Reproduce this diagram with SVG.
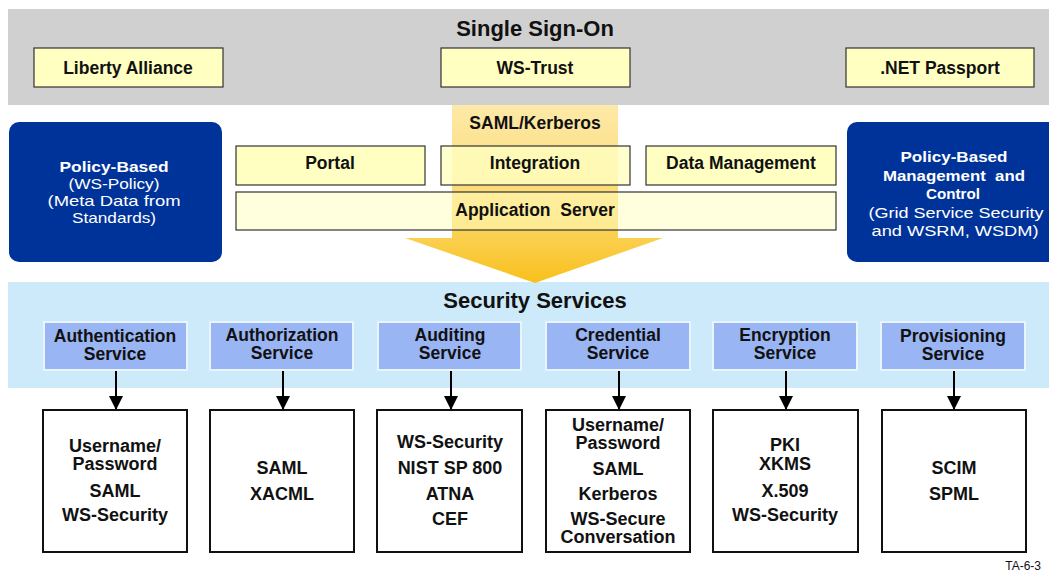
<svg xmlns="http://www.w3.org/2000/svg" width="1049" height="573" viewBox="0 0 1049 573">
<defs>
<linearGradient id="ag" gradientUnits="userSpaceOnUse" x1="0" y1="105" x2="0" y2="284">
<stop offset="0" stop-color="#fde9a8"/>
<stop offset="0.5" stop-color="#fcdb74"/>
<stop offset="0.75" stop-color="#fbcf4e"/>
<stop offset="1" stop-color="#f8c01a"/>
</linearGradient>
<marker id="ah" markerWidth="14" markerHeight="14" refX="14" refY="7" orient="auto" markerUnits="userSpaceOnUse" viewBox="0 0 14 14">
<path d="M0,0 L14,7 L0,14 Z" fill="#000"/>
</marker>
</defs>
<style>
text{font-family:"Liberation Sans",Arial,sans-serif;text-anchor:middle;fill:#111}
.b{font-weight:bold;font-size:17.5px}
.r{font-weight:bold;font-size:18px}
.t{font-weight:bold;font-size:22px}
.yb{fill:#ffffc2;stroke:#333;stroke-width:1.2}
.blue{fill:#003399}
.w{fill:#fff;font-size:15px}
.wb{fill:#fff;font-size:15px;font-weight:bold}
.w2{fill:#fff;font-size:15.5px}
.wb2{fill:#fff;font-size:15.5px;font-weight:bold}
.svc{fill:#99b5f3;stroke:#e8f4ff;stroke-width:2}
.res{fill:#fff;stroke:#111;stroke-width:2}
.con{stroke:#000;stroke-width:2;fill:none}
</style>
<rect x="0" y="0" width="1049" height="573" fill="#fff"/>
<g id="sso">
<rect x="8" y="9" width="1041" height="96" fill="#d0d0d0"/>
<text class="t" x="535" y="36">Single Sign-On</text>
</g>
<g id="liberty"><rect class="yb" x="34" y="48" width="189" height="39"/><text class="b" x="128" y="74">Liberty Alliance</text></g>
<g id="wstrust"><rect class="yb" x="441" y="48" width="189" height="39"/><text class="b" x="535" y="74">WS-Trust</text></g>
<g id="netpassport"><rect class="yb" x="846" y="48" width="188" height="39"/><text class="b" x="940" y="74">.NET Passport</text></g>
<g id="secband">
<rect x="8" y="282" width="1041" height="106" fill="#cdeafa"/>
<text class="t" x="535" y="308">Security Services</text>
</g>
<g id="bigarrow">
<path d="M452,105 L618,105 L618,238 L663,238 L535,283 L405,238 L452,238 Z" fill="url(#ag)"/>
<text class="b" x="535" y="129">SAML/Kerberos</text>
</g>
<g id="policyleft">
<rect class="blue" x="9" y="122" width="213" height="140" rx="10"/>
<text class="wb" x="114" y="172" textLength="109" lengthAdjust="spacingAndGlyphs">Policy-Based</text>
<text class="w" x="114" y="189" textLength="91" lengthAdjust="spacingAndGlyphs">(WS-Policy)</text>
<text class="w" x="114" y="206" textLength="133" lengthAdjust="spacingAndGlyphs">(Meta Data from</text>
<text class="w" x="114" y="223" textLength="84" lengthAdjust="spacingAndGlyphs">Standards)</text>
</g>
<g id="policyright">
<rect class="blue" x="847" y="122" width="215" height="140" rx="10"/>
<text class="wb2" x="954" y="162" textLength="107" lengthAdjust="spacingAndGlyphs">Policy-Based</text>
<text class="wb2" x="954" y="180.5" textLength="142" lengthAdjust="spacingAndGlyphs" xml:space="preserve">Management  and</text>
<text class="wb2" x="953" y="199" textLength="54" lengthAdjust="spacingAndGlyphs">Control</text>
<text class="w2" x="956" y="217.5" textLength="175" lengthAdjust="spacingAndGlyphs">(Grid Service Security</text>
<text class="w2" x="955" y="236" textLength="167" lengthAdjust="spacingAndGlyphs">and WSRM, WSDM)</text>
</g>
<g id="portal"><rect class="yb" x="236" y="146" width="189" height="39"/><text class="b" x="330" y="169">Portal</text></g>
<g id="integration"><rect class="yb" x="441" y="146" width="189" height="39" style="fill-opacity:0.8"/><text class="b" x="535" y="169">Integration</text></g>
<g id="datamgmt"><rect class="yb" x="646" y="146" width="190" height="39"/><text class="b" x="741" y="169">Data Management</text></g>
<g id="appserver"><rect class="yb" x="236" y="192" width="600" height="38" style="fill-opacity:0.55"/><text class="b" x="535" y="216" xml:space="preserve">Application  Server</text></g>
<g id="authn"><rect class="svc" x="44" y="322" width="143" height="48"/><text class="b" x="115" y="342">Authentication</text><text class="b" x="115" y="360">Service</text></g>
<g id="authz"><rect class="svc" x="210" y="322" width="143" height="48"/><text class="b" x="282" y="341">Authorization</text><text class="b" x="282" y="359">Service</text></g>
<g id="audit"><rect class="svc" x="378" y="322" width="143" height="48"/><text class="b" x="450" y="341">Auditing</text><text class="b" x="450" y="359">Service</text></g>
<g id="cred"><rect class="svc" x="546" y="322" width="144" height="48"/><text class="b" x="618" y="341">Credential</text><text class="b" x="618" y="359">Service</text></g>
<g id="encr"><rect class="svc" x="713" y="322" width="144" height="48"/><text class="b" x="785" y="341">Encryption</text><text class="b" x="785" y="359">Service</text></g>
<g id="prov"><rect class="svc" x="881" y="322" width="144" height="48"/><text class="b" x="953" y="342">Provisioning</text><text class="b" x="953" y="360">Service</text></g>
<g id="connectors">
<line class="con" x1="116" y1="371" x2="116" y2="410" marker-end="url(#ah)"/>
<line class="con" x1="283" y1="371" x2="283" y2="410" marker-end="url(#ah)"/>
<line class="con" x1="451" y1="371" x2="451" y2="410" marker-end="url(#ah)"/>
<line class="con" x1="619" y1="371" x2="619" y2="410" marker-end="url(#ah)"/>
<line class="con" x1="786" y1="371" x2="786" y2="410" marker-end="url(#ah)"/>
<line class="con" x1="954" y1="371" x2="954" y2="410" marker-end="url(#ah)"/>
</g>
<g id="res-authn"><rect class="res" x="43" y="410" width="144" height="142"/>
<text class="r" x="115" y="452">Username/</text><text class="r" x="115" y="470">Password</text><text class="r" x="115" y="497">SAML</text><text class="r" x="115" y="521">WS-Security</text></g>
<g id="res-authz"><rect class="res" x="210" y="410" width="144" height="142"/>
<text class="r" x="282" y="474">SAML</text><text class="r" x="282" y="500">XACML</text></g>
<g id="res-audit"><rect class="res" x="377" y="410" width="145" height="142"/>
<text class="r" x="450" y="448">WS-Security</text><text class="r" x="450" y="474">NIST SP 800</text><text class="r" x="450" y="500">ATNA</text><text class="r" x="450" y="525">CEF</text></g>
<g id="res-cred"><rect class="res" x="546" y="410" width="144" height="142"/>
<text class="r" x="618" y="431">Username/</text><text class="r" x="618" y="449">Password</text><text class="r" x="618" y="475">SAML</text><text class="r" x="618" y="500">Kerberos</text><text class="r" x="618" y="525">WS-Secure</text><text class="r" x="618" y="543">Conversation</text></g>
<g id="res-encr"><rect class="res" x="713" y="410" width="145" height="142"/>
<text class="r" x="785" y="451">PKI</text><text class="r" x="785" y="470">XKMS</text><text class="r" x="785" y="497">X.509</text><text class="r" x="785" y="521">WS-Security</text></g>
<g id="res-prov"><rect class="res" x="882" y="410" width="144" height="142"/>
<text class="r" x="954" y="474">SCIM</text><text class="r" x="954" y="500">SPML</text></g>
<text x="1041" y="570" style="text-anchor:end;font-size:12px">TA-6-3</text>
</svg>
